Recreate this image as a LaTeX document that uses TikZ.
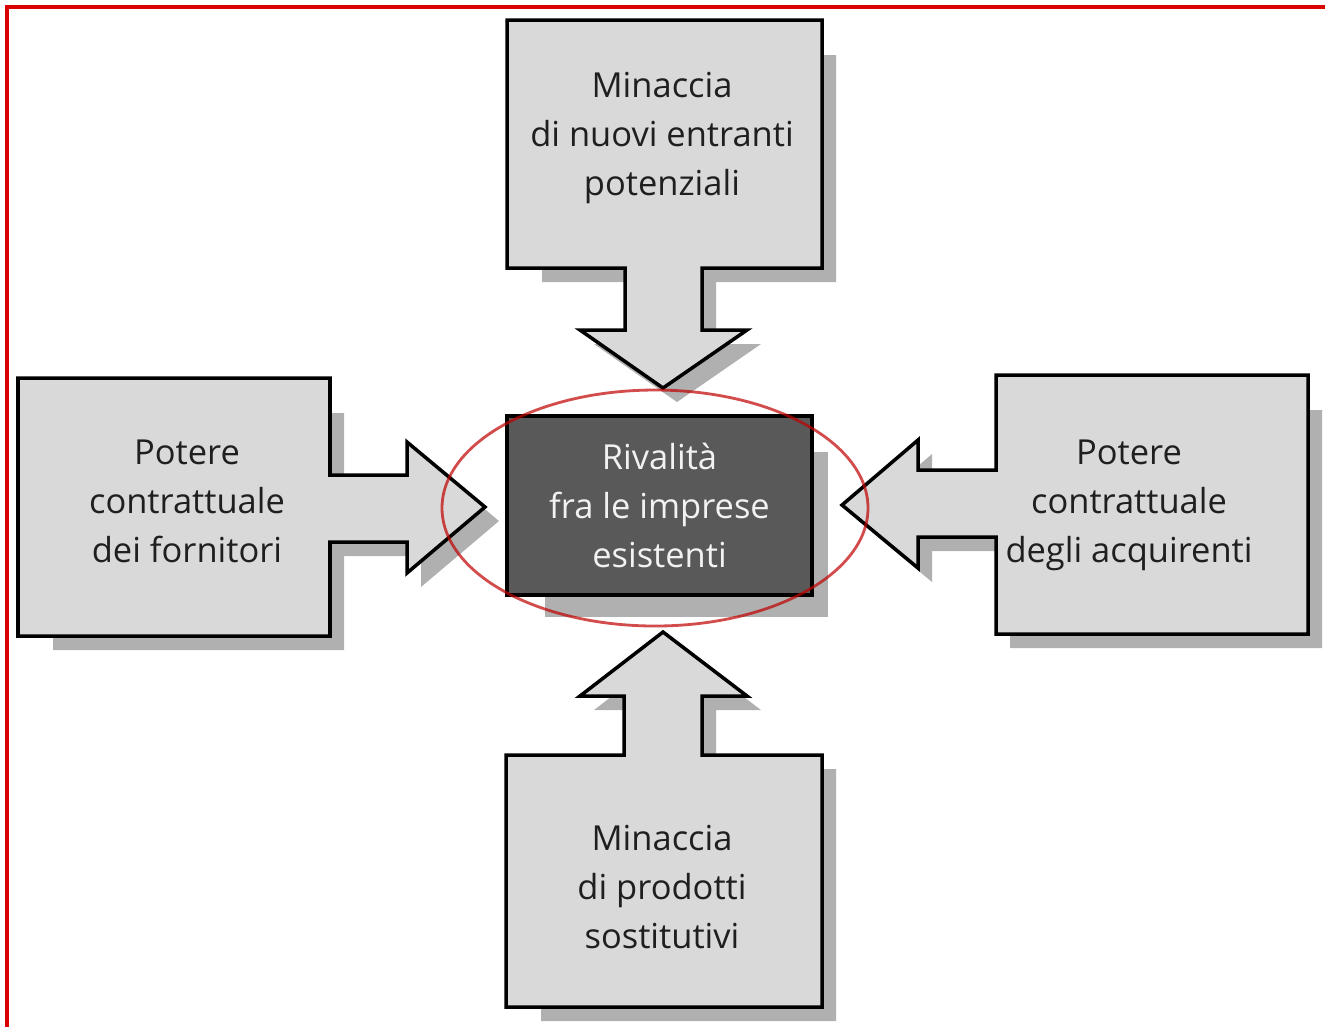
\documentclass[tikz,border=0pt]{standalone}
\usepackage{fontspec}
\setmainfont{Open Sans}
\usepackage{tikz}

\begin{document}
\begin{tikzpicture}
[x=0.01cm,y=-0.01cm
,force/.style={draw=black,line width=1pt,fill=black!15}
,shade/.style={fill=black!31}
,core/.style={force,fill=black!65,line width=1.3pt,minimum width=3.05cm,minimum height=1.79cm,align=center,text=black!5}
,lbl/.style={align=center,text=black!88}
,ring/.style={draw=red!75!black,opacity=0.7,line width=0.8pt}
,frame/.style={draw=red!85!black,line width=0.9pt}
,entp/.style={insert path={(507,20) -- (822,20) -- (822,268) -- (702,268) -- (702,330) -- (747,330) -- (663,388)
  -- (580,330) -- (625,330) -- (625,268) -- (507,268) -- cycle}}
,supp/.style={insert path={(18,378) -- (330,378) -- (330,475) -- (407,475) -- (407,442) -- (485,507) -- (407,573)
  -- (407,542) -- (330,542) -- (330,636) -- (18,636) -- cycle}}
,buyp/.style={insert path={(996,375) -- (1308,375) -- (1308,634) -- (996,634) -- (996,537) -- (918,537) -- (918,568)
  -- (842,505) -- (918,440) -- (918,470) -- (996,470) -- cycle}}
,subp/.style={insert path={(506,755) -- (624,755) -- (624,696) -- (580,696) -- (663,632) -- (747,696) -- (702,696)
  -- (702,755) -- (822,755) -- (822,1007) -- (506,1007) -- cycle}}
,font=\fontsize{9.8}{13.9}\selectfont]
\useasboundingbox (0,0) rectangle (1325,1026);
\draw[frame] (7,1040) |- (1340,7);
% shadows
\begin{scope}\clip (542,55) rectangle (1325,1026); \fill[shade,shift={(14,14)},entp]; \end{scope}
\begin{scope}\clip (53,413) rectangle (1325,1026); \fill[shade,shift={(14,14)},supp]; \end{scope}
\begin{scope}\clip (877,410) rectangle (1325,1026); \fill[shade,shift={(14,14)},buyp]; \end{scope}
\begin{scope}\clip (541,690) rectangle (1325,1026); \fill[shade,shift={(14,14)},subp]; \end{scope}
\fill[shade] (545,452) rectangle (828,617);
% the four forces, box and arrow in one outline
\draw[force,entp];
\draw[force,supp];
\draw[force,buyp];
\draw[force,subp];
\node[core] (rv) at (659.5,505.5) {Rivalità\\fra le imprese\\esistenti};
\node[lbl] (ent) at (662,138) {Minaccia\\di nuovi entranti\\potenziali};
\node[lbl] (sup) at (187,501) {Potere\\contrattuale\\dei fornitori};
\node[lbl] (buy) at (1129,505) {Potere\\contrattuale\\degli acquirenti};
\node[lbl] (sub) at (662,887) {Minaccia\\di prodotti\\sostitutivi};
\draw[ring] (655,508) ellipse [x radius=213,y radius=118];
\end{tikzpicture}
\end{document}
